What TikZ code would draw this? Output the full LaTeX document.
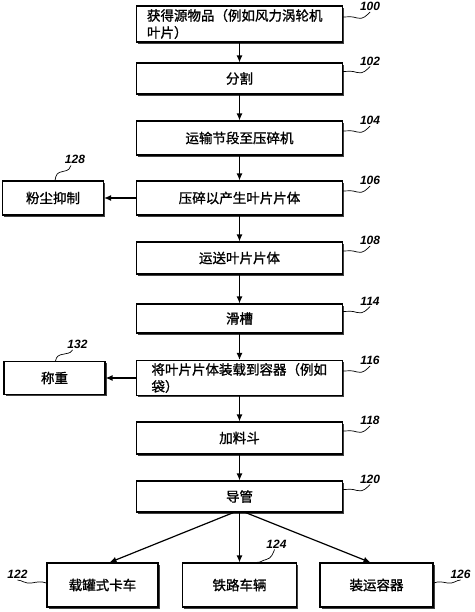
\documentclass[tikz,border=0pt]{standalone}
\usepackage{fontspec}
\setmainfont{Liberation Sans}
\newfontfamily\cjk{Noto Sans CJK SC}[FakeBold=1.2]
\usetikzlibrary{arrows.meta,shadows}

\tikzset{
    box/.style={draw, line width=1.1pt, fill=white, inner sep=0pt,
        font=\cjk\fontsize{13.5}{17}\selectfont,
        drop shadow={shadow xshift=1.6pt, shadow yshift=-1.6pt, fill=black!75, opacity=1}},
    mainbox/.style={box, minimum width=206pt, minimum height=32pt},
    sidebox/.style={box, minimum width=101pt, minimum height=34pt},
    endbox/.style={box, minimum width=112pt, minimum height=44pt},
    flow/.style={line width=1.2pt, -{Latex[length=7pt,width=6pt]}},
    leader/.style={line width=0.7pt},
    tag/.style={font=\fontsize{12}{12}\selectfont\bfseries\itshape, anchor=south, inner sep=1pt},
}

\begin{document}
\begin{tikzpicture}[x=1pt, y=-1pt]
    \useasboundingbox (0,0) rectangle (474,612);

    % main column
    \node[mainbox, minimum height=36pt, text width=185pt, align=left] (b100) at (239.5,24)
        {获得源物品（例如风力涡轮机\\叶片）};
    \node[mainbox, minimum height=31pt] (b102) at (239.5,78.5) {分割};
    \node[mainbox, minimum height=34pt] (b104) at (239.5,138) {运输节段至压碎机};
    \node[mainbox, minimum height=34pt] (b106) at (239.5,198) {压碎以产生叶片片体};
    \node[mainbox] (b108) at (239.5,258) {运送叶片片体};
    \node[mainbox, minimum height=29pt] (b114) at (239.5,318.5) {滑槽};
    \node[mainbox, minimum height=35pt, text width=176pt, align=left] (b116) at (239.5,378)
        {将叶片片体装载到容器（例如\\袋）};
    \node[mainbox] (b118) at (239.5,438) {加料斗};
    \node[mainbox, minimum height=31pt] (b120) at (239.5,496.5) {导管};

    % side boxes
    \node[sidebox] (b128) at (53,198) {粉尘抑制};
    \node[sidebox, minimum height=33pt] (b132) at (54.5,378) {称重};

    % end boxes
    \node[endbox, minimum width=111pt] (b122) at (102.5,585) {载罐式卡车};
    \node[endbox, minimum width=114pt] (b124) at (239.5,585) {铁路车辆};
    \node[endbox, minimum width=113pt] (b126) at (376.5,585) {装运容器};

    % connectors
    \foreach \a/\b in {b100/b102, b102/b104, b104/b106, b106/b108, b108/b114,
                       b114/b116, b116/b118, b118/b120, b106/b128, b116/b132}
        \draw[flow] (\a) -- (\b);
    \draw[flow] ([xshift=-6pt]b120.south) -- ([xshift=7pt]b122.north);
    \draw[flow] (b120.south) -- (b124.north);
    \draw[flow] ([xshift=6pt]b120.south) -- ([xshift=-6pt]b126.north);

    % reference numerals
    \foreach \n in {100,102,104,106,108,114,116,118,120}
        \draw[leader] ([yshift=7pt]b\n.east) .. controls +(6,0) and +(-6,-2) .. ++(14,1)
            .. controls +(6,2) and +(-3,3) .. ++(13,-6) node[tag] {\n};
    \draw[leader] ([xshift=2pt]b128.north) .. controls +(1,-6) and +(-6,1) .. ++(8,-9)
        .. controls +(6,-1) and +(-1,3) .. ++(8,-6) node[tag, xshift=4pt] {128};
    \draw[leader] ([xshift=1pt]b132.north) .. controls +(1,-5) and +(-6,1) .. ++(9,-7)
        .. controls +(6,-1) and +(-1,2) .. ++(8,-4) node[tag, xshift=5pt] {132};
    \draw[leader] ([xshift=17pt]b124.north) .. controls +(5,0) and +(-5,1) .. ++(10,-3)
        .. controls +(5,-1) and +(-1,3) .. ++(8,-10) node[tag, xshift=2pt] {124};
    \draw[leader] ([yshift=2pt]b122.west) .. controls +(-6,-2) and +(6,-1) .. ++(-15,0)
        .. controls +(-6,1) and +(4,0) .. ++(-14,-3) node[tag] {122};
    \draw[leader] ([yshift=2pt]b126.east) .. controls +(6,-2) and +(-6,-1) .. ++(14,0)
        .. controls +(6,1) and +(-4,0) .. ++(13,-3) node[tag] {126};
\end{tikzpicture}
\end{document}
